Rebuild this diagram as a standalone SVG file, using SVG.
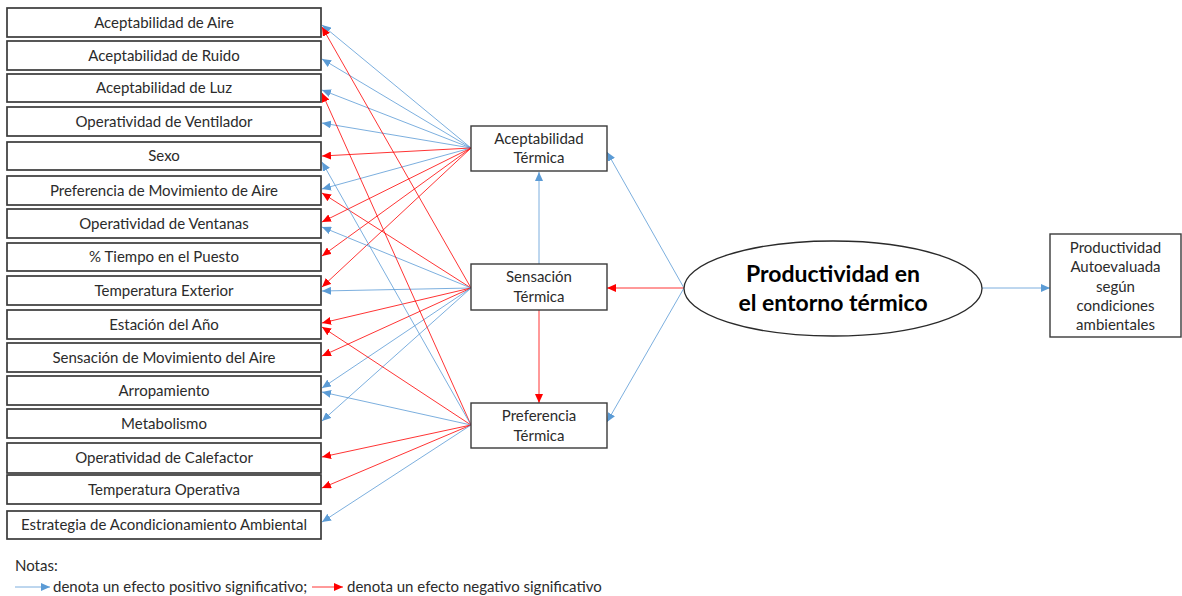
<svg xmlns="http://www.w3.org/2000/svg" width="1182" height="596" viewBox="0 0 1182 596">
<style>
.bx{fill:#fff;stroke:#3a3a3a;stroke-width:1.7}
.mb{fill:#fff;stroke:#3a3a3a;stroke-width:1.4}
.t{font-family:Lato,"Liberation Sans",sans-serif;font-size:15px;fill:#2b2b2b;text-anchor:middle}
.big{font-family:Lato,"Liberation Sans",sans-serif;font-size:23px;font-weight:bold;fill:#000;text-anchor:middle}
.lg{font-family:Lato,"Liberation Sans",sans-serif;font-size:15px;fill:#2b2b2b}
.b{stroke:#5B9BD5;stroke-width:0.8;fill:none;marker-end:url(#ab)}
.r{stroke:#FF0000;stroke-width:0.8;fill:none;marker-end:url(#ar)}
</style>
<defs>
<marker id="ab" markerUnits="userSpaceOnUse" markerWidth="9" markerHeight="8" refX="9" refY="4" orient="auto"><path d="M0,0 L9,4 L0,8 z" fill="#5B9BD5"/></marker>
<marker id="ar" markerUnits="userSpaceOnUse" markerWidth="9" markerHeight="8" refX="9" refY="4" orient="auto"><path d="M0,0 L9,4 L0,8 z" fill="#FF0000"/></marker>
</defs>
<rect width="1182" height="596" fill="#fff"/>
<g id="connectors">
<line class="b" x1="471" y1="148" x2="322" y2="25"/>
<line class="b" x1="471" y1="148" x2="322" y2="59"/>
<line class="b" x1="471" y1="148" x2="322" y2="90"/>
<line class="b" x1="471" y1="148" x2="322" y2="123"/>
<line class="r" x1="471" y1="148" x2="322" y2="156"/>
<line class="b" x1="471" y1="148" x2="322" y2="189"/>
<line class="r" x1="471" y1="148" x2="322" y2="222"/>
<line class="r" x1="471" y1="148" x2="322" y2="256"/>
<line class="r" x1="471" y1="148" x2="322" y2="287"/>
<line class="r" x1="471" y1="288" x2="322" y2="27"/>
<line class="r" x1="471" y1="288" x2="322" y2="193"/>
<line class="b" x1="471" y1="288" x2="322" y2="227"/>
<line class="b" x1="471" y1="288" x2="322" y2="291"/>
<line class="r" x1="471" y1="288" x2="322" y2="323"/>
<line class="r" x1="471" y1="288" x2="322" y2="356"/>
<line class="b" x1="471" y1="288" x2="322" y2="388"/>
<line class="b" x1="471" y1="288" x2="322" y2="421"/>
<line class="r" x1="471" y1="425" x2="322" y2="93"/>
<line class="b" x1="471" y1="425" x2="322" y2="162"/>
<line class="r" x1="471" y1="425" x2="322" y2="327"/>
<line class="b" x1="471" y1="425" x2="322" y2="392"/>
<line class="r" x1="471" y1="425" x2="322" y2="457"/>
<line class="r" x1="471" y1="425" x2="322" y2="488"/>
<line class="b" x1="471" y1="425" x2="322" y2="522"/>
<line class="b" x1="684" y1="288" x2="607" y2="152"/>
<line class="r" x1="684" y1="288" x2="607" y2="288"/>
<line class="b" x1="684" y1="288" x2="607" y2="422"/>
<line class="b" x1="982" y1="288" x2="1050" y2="288"/>
<line class="b" x1="539" y1="264" x2="539" y2="172"/>
<line class="r" x1="539" y1="310" x2="539" y2="403"/>
</g>
<g id="n1"><rect class="bx" x="7" y="8" width="314" height="29"/><text class="t" x="164" y="27.5">Aceptabilidad de Aire</text></g>
<g id="n2"><rect class="bx" x="7" y="41" width="314" height="29"/><text class="t" x="164" y="60.5">Aceptabilidad de Ruido</text></g>
<g id="n3"><rect class="bx" x="7" y="74" width="314" height="28"/><text class="t" x="164" y="93">Aceptabilidad de Luz</text></g>
<g id="n4"><rect class="bx" x="7" y="107" width="314" height="29"/><text class="t" x="164" y="126.5">Operatividad de Ventilador</text></g>
<g id="n5"><rect class="bx" x="7" y="142" width="314" height="28"/><text class="t" x="164" y="161">Sexo</text></g>
<g id="n6"><rect class="bx" x="7" y="176" width="314" height="29"/><text class="t" x="164" y="195.5">Preferencia de Movimiento de Aire</text></g>
<g id="n7"><rect class="bx" x="7" y="209" width="314" height="29"/><text class="t" x="164" y="228.5">Operatividad de Ventanas</text></g>
<g id="n8"><rect class="bx" x="7" y="243" width="314" height="28"/><text class="t" x="164" y="262">% Tiempo en el Puesto</text></g>
<g id="n9"><rect class="bx" x="7" y="276" width="314" height="29"/><text class="t" x="164" y="295.5">Temperatura Exterior</text></g>
<g id="n10"><rect class="bx" x="7" y="310" width="314" height="29"/><text class="t" x="164" y="329.5">Estación del Año</text></g>
<g id="n11"><rect class="bx" x="7" y="343" width="314" height="29"/><text class="t" x="164" y="362.5">Sensación de Movimiento del Aire</text></g>
<g id="n12"><rect class="bx" x="7" y="376" width="314" height="29"/><text class="t" x="164" y="395.5">Arropamiento</text></g>
<g id="n13"><rect class="bx" x="7" y="409" width="314" height="29"/><text class="t" x="164" y="428.5">Metabolismo</text></g>
<g id="n14"><rect class="bx" x="7" y="443" width="314" height="30"/><text class="t" x="164" y="463">Operatividad de Calefactor</text></g>
<g id="n15"><rect class="bx" x="7" y="475" width="314" height="29"/><text class="t" x="164" y="494.5">Temperatura Operativa</text></g>
<g id="n16"><rect class="bx" x="7" y="511" width="314" height="28"/><text class="t" x="164" y="530">Estrategia de Acondicionamiento Ambiental</text></g>
<g id="aceptabilidad-termica"><rect class="mb" x="471" y="126" width="136" height="45"/><text class="t" x="539" y="144">Aceptabilidad</text><text class="t" x="539" y="163">Térmica</text></g>
<g id="sensacion-termica"><rect class="mb" x="471" y="264" width="136" height="46"/><text class="t" x="539" y="282">Sensación</text><text class="t" x="539" y="302">Térmica</text></g>
<g id="preferencia-termica"><rect class="mb" x="471" y="403" width="136" height="45"/><text class="t" x="539" y="421">Preferencia</text><text class="t" x="539" y="441">Térmica</text></g>
<g id="productividad"><ellipse cx="833" cy="288.5" rx="149" ry="47.5" fill="#fff" stroke="#2a2a2a" stroke-width="1.3"/><text class="big" x="833" y="282">Productividad en</text><text class="big" x="833" y="311">el entorno térmico</text></g>
<g id="autoevaluada"><rect class="mb" x="1050" y="234" width="131" height="103"/><text class="t" x="1115.5" y="253">Productividad</text><text class="t" x="1115.5" y="272">Autoevaluada</text><text class="t" x="1115.5" y="292">según</text><text class="t" x="1115.5" y="311">condiciones</text><text class="t" x="1115.5" y="330">ambientales</text></g>
<g id="legend">
<text class="lg" x="15" y="571">Notas:</text>
<line class="b" x1="15" y1="587" x2="50" y2="587"/>
<text class="lg" x="53" y="592">denota un efecto positivo significativo;</text>
<line class="r" x1="312" y1="587" x2="343" y2="587"/>
<text class="lg" x="347" y="592">denota un efecto negativo significativo</text>
</g>
</svg>
